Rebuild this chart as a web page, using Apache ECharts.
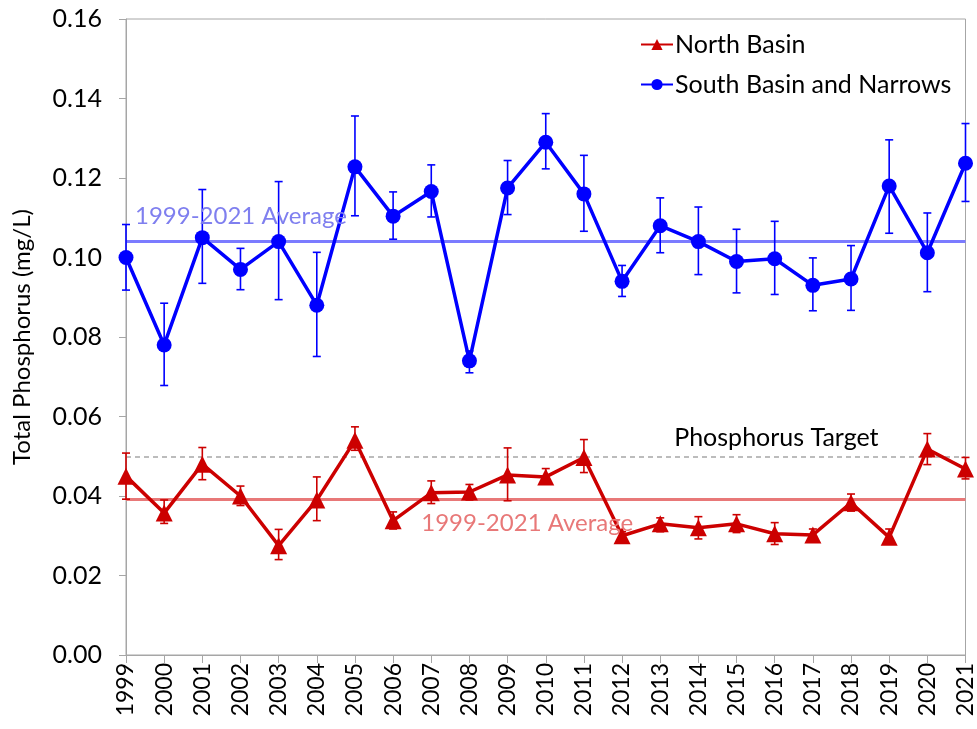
<!DOCTYPE html>
<html><head><meta charset="utf-8">
<script src="https://cdn.jsdelivr.net/npm/echarts@6/dist/echarts.min.js"></script>
<style>html,body{margin:0;padding:0;background:#fff}#c{width:977px;height:729px}</style>
</head><body><div id="c"></div>
<script>
var years = ['1999','2000','2001','2002','2003','2004','2005','2006','2007','2008','2009','2010','2011','2012','2013','2014','2015','2016','2017','2018','2019','2020','2021'];
var southVals = [0.100,0.078,0.105,0.097,0.104,0.088,0.1228,0.1104,0.1166,0.074,0.1175,0.129,0.116,0.094,0.108,0.104,0.099,0.0997,0.093,0.0946,0.118,0.1012,0.1237];
var southHigh = [0.1083,0.0885,0.1171,0.1023,0.1191,0.1013,0.1356,0.1165,0.1233,0.0765,0.1244,0.1362,0.1257,0.098,0.115,0.1127,0.1071,0.1091,0.0999,0.103,0.1296,0.1112,0.1337];
var southLow = [0.0918,0.0678,0.0935,0.0919,0.0894,0.0751,0.1105,0.1046,0.1102,0.071,0.1108,0.1223,0.1066,0.0902,0.1012,0.0957,0.0911,0.0907,0.0866,0.0867,0.1061,0.0914,0.1141];
var northVals = [0.0450,0.0357,0.0480,0.0400,0.0275,0.0390,0.0540,0.0338,0.0408,0.0410,0.0453,0.0448,0.0497,0.0300,0.0330,0.0320,0.0330,0.0305,0.0302,0.0383,0.0296,0.0518,0.0468];
var northHigh = [0.0508,0.039,0.0522,0.0425,0.0316,0.0448,0.0574,0.036,0.0438,0.0429,0.0521,0.0469,0.0542,0.031,0.0345,0.0348,0.0353,0.0333,0.0317,0.0405,0.0317,0.0557,0.0497];
var northLow = [0.0392,0.0331,0.0441,0.0376,0.024,0.0338,0.0515,0.0317,0.0381,0.039,0.0388,0.043,0.0459,0.029,0.031,0.0292,0.0308,0.0278,0.029,0.0362,0.0285,0.0479,0.0443];
var southAvg = 0.1041;
var northAvg = 0.0392;
var targetVal = 0.05;
var avgLabel = '1999-2021 Average';
var targetLabel = 'Phosphorus Target';

var FONT = 'Lato';
var chart = echarts.init(document.getElementById('c'));

function errSeries(low, high, color) {
  var data = low.map(function (l, i) { return [i, l, high[i]]; });
  return {
    type: 'custom', data: data, silent: true, z: 4,
    encode: { x: 0, y: [1, 2] },
    renderItem: function (params, api) {
      var x = api.value(0);
      var p1 = api.coord([x, api.value(1)]);
      var p2 = api.coord([x, api.value(2)]);
      var hw = 4;
      var st = { stroke: color, lineWidth: 1.6 };
      return { type: 'group', children: [
        { type: 'line', shape: { x1: p1[0], y1: p1[1], x2: p2[0], y2: p2[1] }, style: st },
        { type: 'line', shape: { x1: p1[0]-hw, y1: p1[1], x2: p1[0]+hw, y2: p1[1] }, style: st },
        { type: 'line', shape: { x1: p2[0]-hw, y1: p2[1], x2: p2[0]+hw, y2: p2[1] }, style: st }
      ]};
    }
  };
}

var option = {
  animation: false,
  backgroundColor: '#fff',
  textStyle: { fontFamily: FONT },
  grid: { left: 126, right: 11, top: 19, bottom: 74, show: true, borderColor: '#a6a6a6', borderWidth: 1 },
  legend: {
    orient: 'vertical', left: 635, top: 27, itemGap: 15, itemWidth: 32, itemHeight: 14,
    textStyle: { fontFamily: FONT, fontSize: 25, color: '#000', padding: [0, 0, 0, -3] },
    data: ['North Basin', 'South Basin and Narrows']
  },
  xAxis: {
    type: 'category', data: years, boundaryGap: false,
    axisLine: { lineStyle: { color: '#a6a6a6', width: 1 } },
    axisTick: { show: true, inside: false, length: 8, alignWithLabel: true, interval: 0, lineStyle: { color: '#a6a6a6' } },
    axisLabel: { rotate: 90, interval: 0, fontFamily: FONT, fontSize: 23, color: '#000', margin: 8 },
    splitLine: { show: false }
  },
  yAxis: {
    type: 'value', min: 0, max: 0.16, interval: 0.02,
    name: 'Total Phosphorus (mg/L)', nameLocation: 'middle', nameGap: 92,
    nameTextStyle: { fontFamily: FONT, fontSize: 24, color: '#000' },
    axisLine: { show: true, lineStyle: { color: '#a6a6a6', width: 1 } },
    axisTick: { show: true, inside: false, length: 7, lineStyle: { color: '#a6a6a6' } },
    axisLabel: { fontFamily: FONT, fontSize: 25, color: '#000', margin: 24, formatter: function (v) { return v.toFixed(2); } },
    splitLine: { show: false }
  },
  series: [
    {
      name: 'North Basin', type: 'line', data: northVals, z: 5,
      symbol: 'triangle', symbolSize: 17,
      itemStyle: { color: '#cc0000' }, lineStyle: { color: '#cc0000', width: 3.5 },
      markLine: {
        silent: true, symbol: 'none', precision: 5, label: { show: false }, z: 2,
        data: [
          { yAxis: northAvg, lineStyle: { color: '#e87878', width: 3, type: 'solid' } },
          { yAxis: targetVal, lineStyle: { color: '#a6a6a6', width: 1.5, type: [5, 4] } }
        ]
      }
    },
    {
      name: 'South Basin and Narrows', type: 'line', data: southVals, z: 5,
      symbol: 'circle', symbolSize: 15,
      itemStyle: { color: '#0000ff' }, lineStyle: { color: '#0000ff', width: 3.5 },
      markLine: {
        silent: true, symbol: 'none', precision: 5, label: { show: false }, z: 2,
        data: [ { yAxis: southAvg, lineStyle: { color: '#7b7bff', width: 3, type: 'solid' } } ]
      }
    },
    errSeries(northLow, northHigh, '#cc0000'),
    errSeries(southLow, southHigh, '#0000ff')
  ]
};
chart.setOption(option);

function px(idx, v) { return chart.convertToPixel({ gridIndex: 0 }, [idx, v]); }
var pS = px(0, southAvg);
var pN = px(years.indexOf('2007'), northAvg);
var pT = px(years.indexOf('2013'), targetVal);
chart.setOption({
  graphic: [
    { type: 'text', left: pS[0] + 9, top: pS[1] - 37, z: 10, silent: true,
      style: { text: avgLabel, fontFamily: FONT, fontSize: 24, fill: '#7f7fef' } },
    { type: 'text', left: pN[0] - 10, top: pN[1] + 12, z: 10, silent: true,
      style: { text: avgLabel, fontFamily: FONT, fontSize: 24, fill: '#e87878' } },
    { type: 'text', left: pT[0] + 14, top: pT[1] - 31, z: 10, silent: true,
      style: { text: targetLabel, fontFamily: FONT, fontSize: 25, fill: '#000' } }
  ]
});
</script></body></html>
